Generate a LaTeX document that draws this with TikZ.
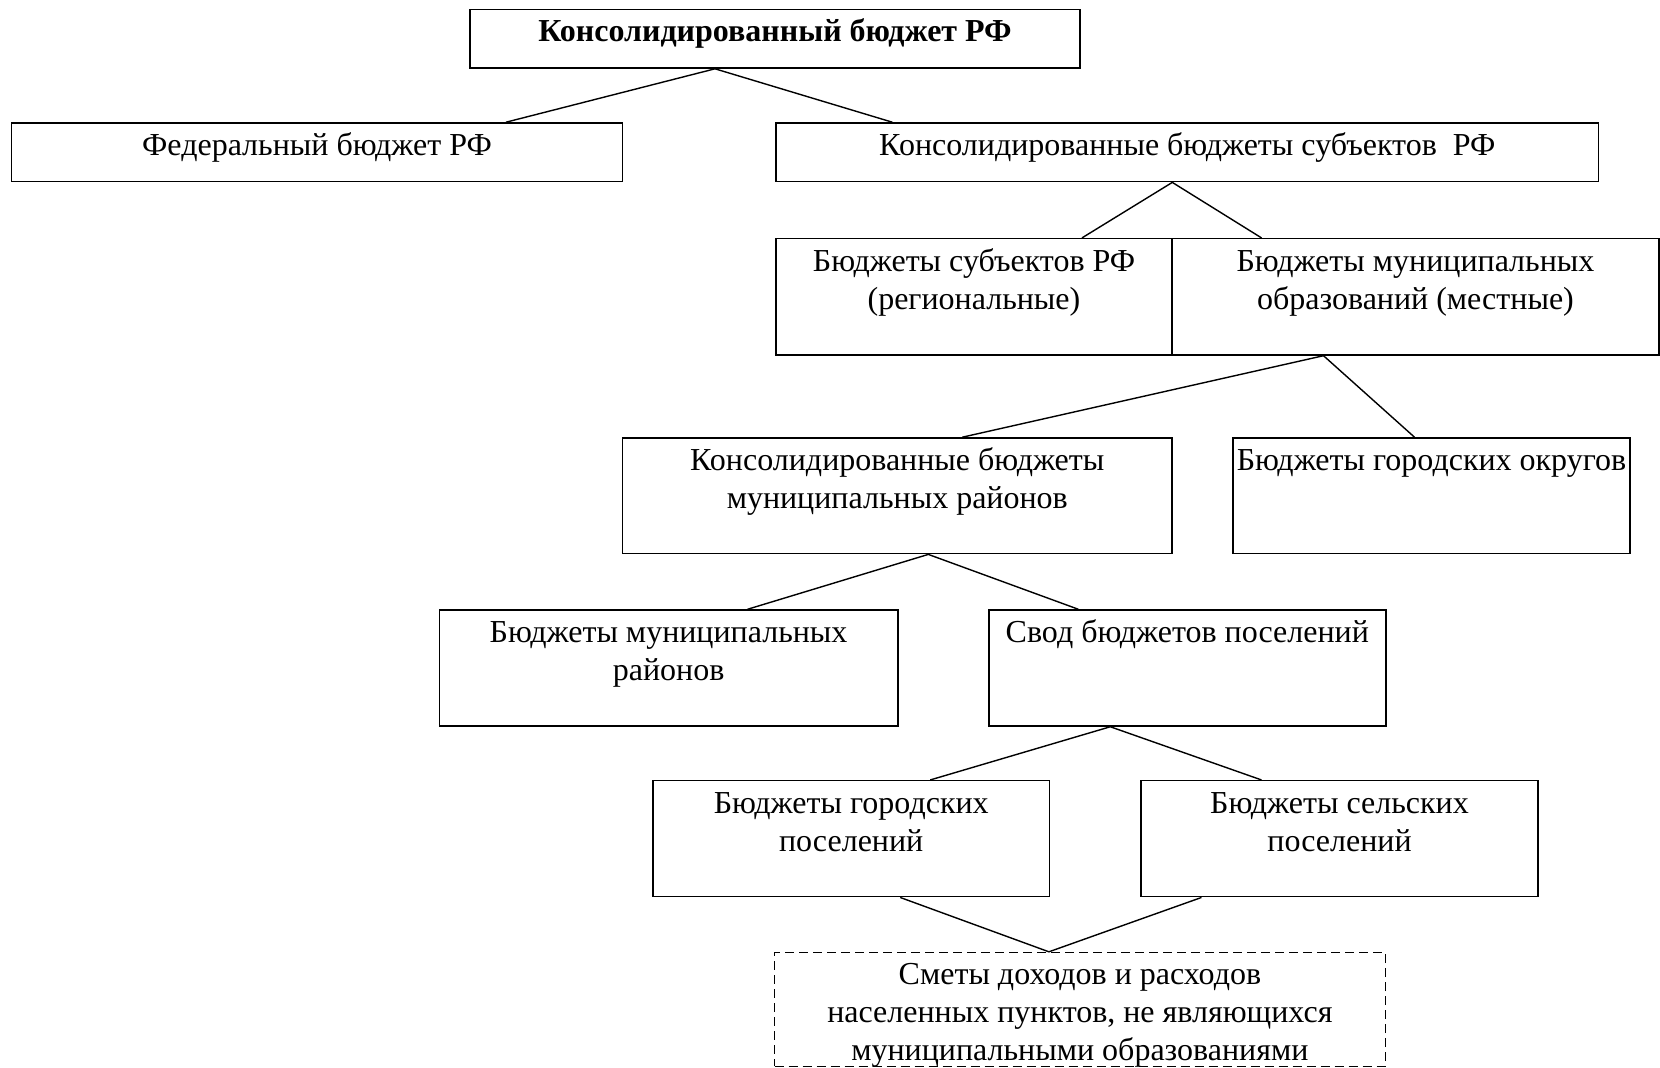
\documentclass[tikz,border=0pt]{standalone}
\usepackage{fontspec}
\setmainfont{Liberation Serif}
\newcommand{\btext}[3]{\parbox[t][#2][t]{#1}{\centering\rule{0pt}{32.5pt}#3}}
\tikzset{
  bx/.style={draw, line width=1.5pt, inner sep=0pt},
  dsh/.style={bx, line width=1.2pt, dash pattern=on 9pt off 5pt},
  ln/.style={line width=1.4pt}
}

\begin{document}
\begin{tikzpicture}[x=1pt, y=-1pt, every node/.style={font=\fontsize{32}{38}\selectfont}]
  \useasboundingbox (0,0) rectangle (1660,1068);
  \node[bx] (top) at (775,38.7) {\btext{610pt}{58.7pt}{\bfseries Консолидированный бюджет РФ}};
  \node[bx] (fed) at (317,152.3) {\btext{611pt}{58.7pt}{Федеральный бюджет РФ}};
  \node[bx] (conss) at (1187.3,152.3) {\btext{822.6pt}{58.7pt}{Консолидированные бюджеты субъектов~ РФ}};
  \node[bx] (reg) at (974,296.8) {\btext{396pt}{116.3pt}{Бюджеты субъектов РФ\\(региональные)}};
  \node[bx] (mun) at (1415.5,296.8) {\btext{487pt}{116.3pt}{Бюджеты муниципальных\\образований (местные)}};
  \node[bx] (cmd) at (897.3,495.8) {\btext{549.5pt}{115.7pt}{Консолидированные бюджеты\\муниципальных районов}};
  \node[bx] (go) at (1431.5,495.8) {\btext{397pt}{115.7pt}{\mbox{Бюджеты городских округов}}};
  \node[bx] (mr) at (668.6,668) {\btext{458.4pt}{116pt}{Бюджеты муниципальных\\районов}};
  \node[bx] (svod) at (1187.3,668) {\btext{397pt}{116pt}{Свод бюджетов поселений}};
  \node[bx] (gp) at (851.2,838.7) {\btext{396.3pt}{116pt}{Бюджеты городских\\поселений}};
  \node[bx] (sp) at (1339.5,838.7) {\btext{397pt}{116pt}{Бюджеты сельских\\поселений}};
  \node[dsh] (smet) at (1079.9,1009.4) {\btext{610.7pt}{114pt}{Сметы доходов и расходов\\населенных пунктов, не являющихся\\муниципальными образованиями}};

  \draw[ln] ([xshift=189pt]fed.north) -- ([xshift=-60pt]top.south) -- ([xshift=-295pt]conss.north);
  \draw[ln] ([xshift=108pt]reg.north) -- ([xshift=-15pt]conss.south) -- ([xshift=-154pt]mun.north);
  \draw[ln] ([xshift=65pt]cmd.north) -- ([xshift=-92pt]mun.south) -- ([xshift=-17pt]go.north);
  \draw[ln] ([xshift=79pt]mr.north) -- ([xshift=31pt]cmd.south) -- ([xshift=-109pt]svod.north);
  \draw[ln] ([xshift=79pt]gp.north) -- ([xshift=-77pt]svod.south) -- ([xshift=-78pt]sp.north);
  \draw[ln] ([xshift=49pt]gp.south) -- ([xshift=-31pt]smet.north) -- ([xshift=-138pt]sp.south);
\end{tikzpicture}
\end{document}
